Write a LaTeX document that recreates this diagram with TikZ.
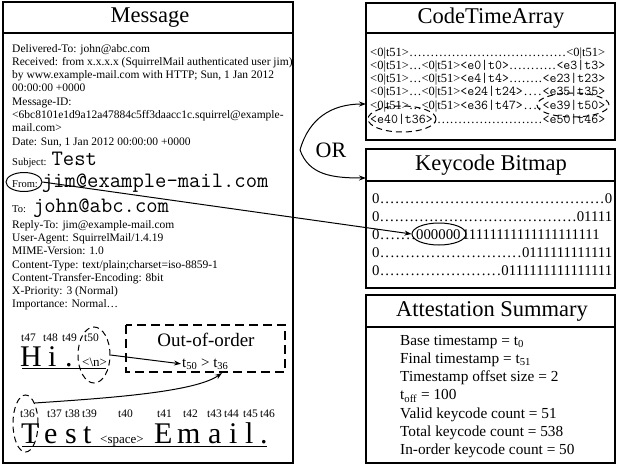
\documentclass[tikz,border=0pt]{standalone}
\usepackage{fontspec}
\setmainfont{Liberation Serif}
\usetikzlibrary{arrows.meta,shapes.geometric}
\newcommand\dfill[1][0.333em]{\xleaders\hbox to #1{\hss.\hss}\hfill}
\newcommand\fs[1]{\fontsize{#1}{#1}\selectfont}
\newcommand\tmr[1]{{\fs{12.5}#1}}
\newcommand\cwr[1]{{\ttfamily\fs{13.5}#1}}
\newcommand\bigtt[1]{{\ttfamily\fs{22}#1}}
\newcommand\lab[1]{{\fs{10.5}#1}}
\begin{document}
\begin{tikzpicture}[x=1pt,y=-1pt,
  box/.style={draw,line width=1.5pt},
  ttl/.style={inner sep=0pt,font=\fs{22.5}},
  hdr/.style={anchor=base west,inner sep=0pt,font=\fs{11.5}},
  row/.style={anchor=base west,inner sep=0pt,font=\fs{12.5}},
  bit/.style={anchor=base west,inner sep=0pt,font=\fs{14.8}},
  att/.style={anchor=base west,inner sep=0pt,font=\fs{15.3}},
  lbl/.style={anchor=base west,inner sep=0pt,font=\fs{11.5}},
  big/.style={anchor=base west,inner sep=0pt,font=\fs{30}},
  small/.style={anchor=base west,inner sep=0pt,font=\fs{13}},
  dring/.style={draw,ellipse,dashed,dash pattern=on 6pt off 4pt,line width=1pt,inner sep=0pt},
  sring/.style={draw,ellipse,line width=1pt,inner sep=0pt},
  arr/.style={-{Stealth[length=7pt,width=5pt]},line width=1pt},
]
\useasboundingbox (0,0) rectangle (618,466);
% ---------- boxes
\draw[box] (3,2) rectangle (293,463);
\draw[box] (3,33) -- (293,33);
\draw[box] (366,3) rectangle (615,140);
\draw[box] (366,33) -- (615,33);
\draw[box] (366,149) rectangle (615,288);
\draw[box] (366,181) -- (615,181);
\draw[box] (366,295) rectangle (615,463);
\draw[box] (366,327) -- (615,327);
% ---------- titles
\node[ttl] (tmsg) at (150,18) {Message};
\node[ttl] (tcta) at (491,18) {CodeTimeArray};
\node[ttl] (tkb) at (491,165) {Keycode Bitmap};
\node[ttl] (tatt) at (492,311) {Attestation Summary};
% ---------- message header
\node[hdr] (h1) at (12,52) {Delivered-To: john@abc.com};
\node[hdr] (h2) at (12,65) {Received: from x.x.x.x (SquirrelMail authenticated user jim)};
\node[hdr] (h3) at (12,78) {by www.example-mail.com with HTTP; Sun, 1 Jan 2012};
\node[hdr] (h4) at (12,91.5) {00:00:00 +0000};
\node[hdr] (h5) at (12,105) {Message-ID:};
\node[hdr] (h6) at (12,118) {<6bc8101e1d9a12a47884c5ff3daacc1c.squirrel@example-};
\node[hdr] (h7) at (12,131.5) {mail.com>};
\node[hdr] (h8) at (12,145) {Date: Sun, 1 Jan 2012 00:00:00 +0000};
\node[hdr] (h9) at (12,165) {\lab{Subject:}\hspace{5pt}\bigtt{Test}};
\node[hdr] (h10) at (12,187) {\lab{From:}\hspace{4pt}\bigtt{jim@example-mail.com}};
\node[hdr] (h11) at (12,212) {\lab{To:}\hspace{7pt}\bigtt{john@abc.com}};
\node[hdr] (h12) at (12,228) {Reply-To: jim@example-mail.com};
\node[hdr] (h13) at (12,241.3) {User-Agent: SquirrelMail/1.4.19};
\node[hdr] (h14) at (12,254.6) {MIME-Version: 1.0};
\node[hdr] (h15) at (12,268) {Content-Type: text/plain;charset=iso-8859-1};
\node[hdr] (h16) at (12,281.2) {Content-Transfer-Encoding: 8bit};
\node[hdr] (h17) at (12,294.5) {X-Priority: 3 (Normal)};
\node[hdr] (h18) at (12,307.8) {Importance: Normal…};
\node[sring,minimum width=36pt,minimum height=19pt] (fromE) at (24,182) {};
% ---------- Hi.
\node[lbl] (l47) at (21,341) {t47};
\node[lbl] (l48) at (43,341) {t48};
\node[lbl] (l49) at (62,341) {t49};
\node[lbl] (l50) at (84,341) {t50};
\node[big] (cH) at (20,366) {H};
\node[big] (ci) at (48,366) {i};
\node[big] (cdot) at (65,366) {.};
\node[small] (cn) at (82,366) {<\textbackslash n>};
\draw[line width=1pt] (22,368.5) -- (106,368.5);
\node[dring,minimum width=32pt,minimum height=56pt] (e50) at (94,355) {};
% ---------- out-of-order box
\draw[dashed,dash pattern=on 9pt off 5pt,line width=1.1pt] (126,325) rectangle (285,372);
\node[inner sep=0pt,font=\fs{19}] (ooo) at (206,340) {Out-of-order};
\node[anchor=base west,inner sep=1pt,font=\fs{15}] (ineq) at (181,367) {t\textsubscript{50} > t\textsubscript{36}};
\coordinate (t36tip) at (222,373);
% ---------- Test Email
\node[lbl] (l36) at (20,417) {t36};
\node[lbl] (l37) at (47,417) {t37};
\node[lbl] (l38) at (65,417) {t38};
\node[lbl] (l39) at (82,417) {t39};
\node[lbl] (l40) at (118,417) {t40};
\node[lbl] (l41) at (157,417) {t41};
\node[lbl] (l42) at (183,417) {t42};
\node[lbl] (l43) at (207,417) {t43};
\node[lbl] (l44) at (224,417) {t44};
\node[lbl] (l45) at (243,417) {t45};
\node[lbl] (l46) at (260,417) {t46};
\node[big] (cT) at (21,443) {T};
\node[big] (ce) at (44,443) {e};
\node[big] (cs) at (65,443) {s};
\node[big] (ct) at (83,443) {t};
\node[small] (csp) at (100,443) {<space>};
\node[big] (cE) at (154,443) {E};
\node[big] (cm) at (177,443) {m};
\node[big] (ca) at (208,443) {a};
\node[big] (cii) at (229,443) {i};
\node[big] (cl) at (245,443) {l};
\node[big] (cdd) at (260,443) {.};
\draw[line width=1pt] (22,446) -- (267,446);
\node[dring,minimum width=25pt,minimum height=57pt] (e36) at (25.5,423.5) {};
% ---------- arrows in message
\draw[arr] (e50.east) -- (ineq.west);
\draw[arr] (e36.north east) .. controls (110,398) and (195,392) .. (t36tip);
% ---------- CodeTimeArray rows
\node[row] (c1) at (370,56) {\hbox to 235pt{\tmr{<0|t51>}\dfill\tmr{<0|t51>}}};
\node[row] (c2) at (370,69) {\hbox to 235pt{\tmr{<0|t51>…<0|t51>}\cwr{<e0|t0>}\dfill\cwr{<e3|t3>}}};
\node[row] (c3) at (370,82) {\hbox to 235pt{\tmr{<0|t51>…<0|t51>}\cwr{<e4|t4>}\dfill\cwr{<e23|t23>}}};
\node[row] (c4) at (370,95.5) {\hbox to 235pt{\tmr{<0|t51>…<0|t51>}\cwr{<e24|t24>}\dfill\cwr{<e35|t35>}}};
\node[row] (c5) at (370,109) {\hbox to 235pt{\tmr{<0|t51>…<0|t51>}\cwr{<e36|t47>}\dfill\cwr{<e39|t50>}}};
\node[row] (c6) at (370,123) {\hbox to 235pt{\cwr{<e40|t36>}\dfill\cwr{<e50|t46>}}};
\node[dring,minimum width=72pt,minimum height=24pt] (e39) at (573,105) {};
\node[dring,minimum width=68pt,minimum height=26pt] (e40) at (402,119) {};
% ---------- OR
\node[inner sep=0pt,font=\fs{22}] (or) at (331,150) {OR};
\coordinate (orL) at (300,150);
\coordinate (ctaIn) at (366,104);
\coordinate (kbIn) at (366,178);
\draw[arr] (orL) .. controls (309,118) and (332,104) .. (ctaIn);
\draw[arr] (orL) .. controls (309,175) and (332,178) .. (kbIn);
% ---------- Keycode bitmap rows
\node[bit] (b1) at (372,203) {\hbox to 240pt{0\dfill0}};
\node[bit] (b2) at (372,221) {\hbox to 240pt{0\dfill01111}};
\node[bit] (b3) at (372,239) {\hbox to 240pt{\hbox to 44pt{0\dfill}000000\kern1.5pt 11111111111111111111\hfill}};
\node[bit] (b4) at (372,257) {\hbox to 240pt{0\dfill0111111111111}};
\node[bit] (b5) at (372,275) {\hbox to 240pt{0\dfill0111111111111111}};
\node[sring,minimum width=54pt,minimum height=22pt] (bitE) at (439,234) {};
\draw[arr] (fromE.east) -- (bitE.west);
% ---------- Attestation summary
\node[att] (a1) at (400,345) {Base timestamp = t\textsubscript{0}};
\node[att] (a2) at (400,363.3) {Final timestamp = t\textsubscript{51}};
\node[att] (a3) at (400,381.6) {Timestamp offset size = 2};
\node[att] (a4) at (400,399.9) {t\textsubscript{off} = 100};
\node[att] (a5) at (400,418.2) {Valid keycode count = 51};
\node[att] (a6) at (400,436.5) {Total keycode count = 538};
\node[att] (a7) at (400,454.8) {In-order keycode count = 50};
\end{tikzpicture}
\end{document}
